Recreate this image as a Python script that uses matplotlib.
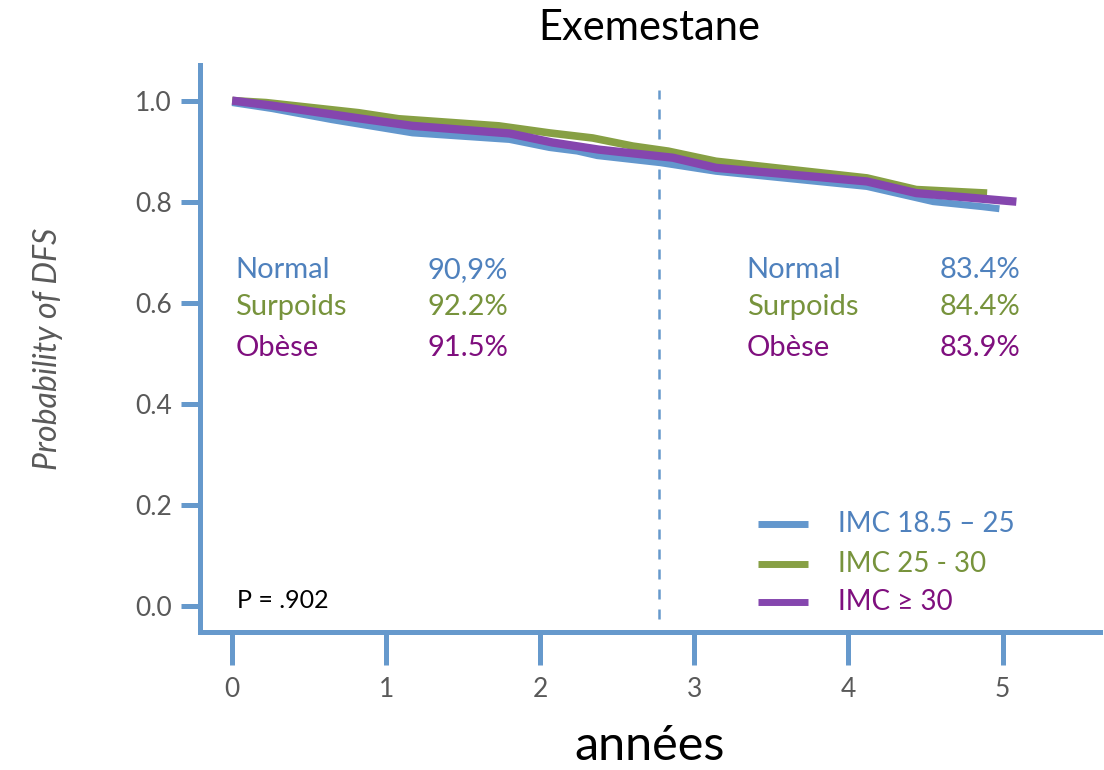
import matplotlib.pyplot as plt

plt.rcParams['font.family'] = ['Lato', 'DejaVu Sans']

# DFS curves per BMI group (years, probability)
t_normal = [0, 0.26, 0.65, 1.17, 1.8, 2.06, 2.24, 2.37, 2.78, 3.14, 4.12, 4.55, 4.87, 4.98]
p_normal = [0.996, 0.984, 0.962, 0.936, 0.923, 0.907, 0.900, 0.891, 0.877, 0.860, 0.830, 0.800, 0.790, 0.786]

t_surpoids = [0, 0.22, 0.82, 1.08, 1.73, 2.06, 2.34, 2.6, 2.83, 3.14, 4.12, 4.44, 4.9]
p_surpoids = [1.0, 0.996, 0.976, 0.964, 0.950, 0.936, 0.926, 0.910, 0.900, 0.880, 0.847, 0.824, 0.817]

t_obese = [0, 0.26, 0.82, 1.17, 1.8, 2.08, 2.38, 2.86, 3.14, 4.12, 4.44, 5.09]
p_obese = [1.0, 0.990, 0.965, 0.950, 0.935, 0.917, 0.903, 0.887, 0.867, 0.840, 0.817, 0.800]

groupes = ['Normal', 'Surpoids', 'Obèse']
dfs_2ans = ['90,9%', '92.2%', '91.5%']
dfs_5ans = ['83.4%', '84.4%', '83.9%']
legende = ['IMC 18.5 – 25', 'IMC 25 - 30', 'IMC ≥ 30']
p_value = 'P = .902'
coupure = 2.77

line_cols = ['#6397CD', '#87A044', '#8546AE']
text_cols = ['#4F81BD', '#77933C', '#7F0F7E']
axis_col = '#6699CC'

fig = plt.figure(figsize=(11.04, 7.7), dpi=100)
ax = fig.add_axes([0.181, 0.179, 0.815, 0.737])

ax.plot(t_normal, p_normal, color=line_cols[0], lw=5, solid_capstyle='butt', zorder=3)
ax.plot(t_surpoids, p_surpoids, color=line_cols[1], lw=5.5, solid_capstyle='butt', zorder=4)
ax.plot(t_obese, p_obese, color=line_cols[2], lw=6, solid_capstyle='butt', zorder=5)

ax.plot([coupure, coupure], [-0.025, 1.02], color=axis_col, lw=1.8, ls=(0, (4, 4)), zorder=2)

ax.set_xlim(-0.21, 5.63)
ax.set_ylim(-0.0515, 1.071)
ax.set_xticks(range(6))
ax.set_yticks([0, 0.2, 0.4, 0.6, 0.8, 1.0])
ax.set_yticklabels(['0.0', '0.2', '0.4', '0.6', '0.8', '1.0'])

for s in ['top', 'right']:
    ax.spines[s].set_visible(False)
for s in ['left', 'bottom']:
    ax.spines[s].set_color(axis_col)
    ax.spines[s].set_linewidth(3.6)

ax.tick_params(axis='x', direction='out', length=24, width=3.6, color=axis_col,
               labelsize=19, labelcolor='#595959', pad=8)
ax.tick_params(axis='y', direction='out', length=14, width=3.6, color=axis_col,
               labelsize=19, labelcolor='#595959', pad=6)

ax.set_title('Exemestane', fontsize=30, pad=18)
ax.set_xlabel('années', fontsize=35, labelpad=16)
ax.set_ylabel('Probability of DFS', fontsize=23, style='italic', color='#595959', labelpad=52)

# survival at 2 and 5 years
ys = [0.664, 0.591, 0.511]
for i in range(3):
    ax.text(0.02, ys[i], groupes[i], color=text_cols[i], fontsize=21, va='center')
    ax.text(1.27, ys[i], dfs_2ans[i], color=text_cols[i], fontsize=21, va='center')
    ax.text(3.34, ys[i], groupes[i], color=text_cols[i], fontsize=21, va='center')
    ax.text(4.59, ys[i], dfs_5ans[i], color=text_cols[i], fontsize=21, va='center')

ax.text(0.03, 0.012, p_value, color='black', fontsize=18, va='center')

# legend
ly = [0.163, 0.084, 0.008]
for i in range(3):
    ax.plot([3.41, 3.74], [ly[i], ly[i]], color=line_cols[i], lw=5, solid_capstyle='butt')
    ax.text(3.93, ly[i], legende[i], color=text_cols[i], fontsize=20, va='center')

fig.savefig('out.png', dpi=100)
